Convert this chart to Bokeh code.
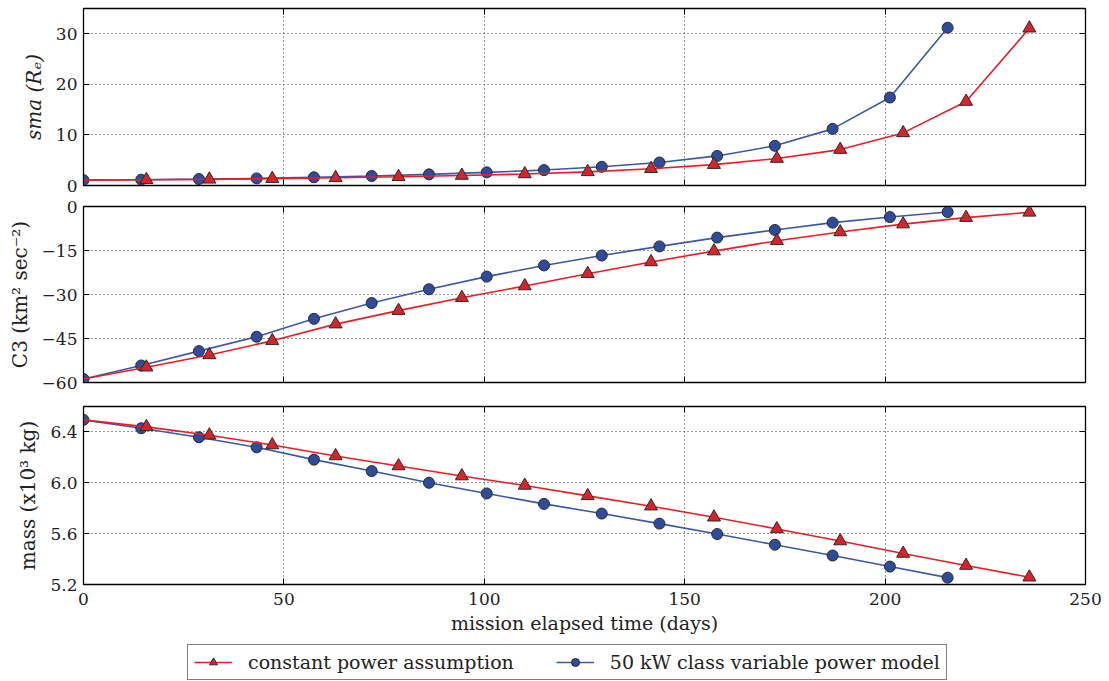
from bokeh.plotting import figure
from bokeh.layouts import column
from bokeh.models import (FixedTicker, LinearAxis, Legend, LegendItem, Range1d,
                          CustomJSTickFormatter, PrintfTickFormatter)
from bokeh.embed import file_html
from bokeh.resources import INLINE

# ---------------- data ----------------
days_const = [0, 15.7, 31.4, 47.1, 62.9, 78.6, 94.4, 110.1, 125.8, 141.6,
              157.3, 173.0, 188.8, 204.5, 220.2, 236.0]
days_var = [0, 14.4, 28.8, 43.2, 57.5, 71.9, 86.2, 100.6, 114.9, 129.3,
            143.7, 158.1, 172.5, 186.9, 201.2, 215.6]

sma_const = [1.06, 1.13, 1.22, 1.35, 1.52, 1.72, 1.98, 2.28, 2.70, 3.32,
             4.12, 5.33, 7.1, 10.4, 16.6, 31.1]
sma_var = [1.06, 1.15, 1.27, 1.40, 1.62, 1.88, 2.20, 2.60, 3.05, 3.70,
           4.55, 5.85, 7.85, 11.2, 17.4, 31.2]

c3_const = [-58.8, -54.8, -50.6, -45.8, -40.1, -35.5, -31.1, -27.1, -22.9,
            -18.9, -15.2, -11.7, -8.7, -6.0, -3.8, -2.0]
c3_var = [-58.8, -54.2, -49.3, -44.4, -38.3, -32.9, -28.2, -23.9, -20.1,
          -16.7, -13.6, -10.6, -8.0, -5.5, -3.6, -1.9]

mass_const = [6.495, 6.440, 6.374, 6.297, 6.211, 6.132, 6.053, 5.979, 5.897,
              5.816, 5.729, 5.637, 5.542, 5.444, 5.349, 5.257]
mass_var = [6.495, 6.429, 6.358, 6.279, 6.182, 6.092, 6.000, 5.916, 5.834,
            5.758, 5.679, 5.597, 5.513, 5.428, 5.341, 5.254]

x_ticks = [0, 50, 100, 150, 200, 250]
sma_ticks = [0, 10, 20, 30]
c3_ticks = [-60, -45, -30, -15, 0]
mass_ticks = [5.2, 5.6, 6.0, 6.4]

label_const = "constant power assumption"
label_var = "50 kW class variable power model"
x_label = "mission elapsed time (days)"

# ---------------- styles ----------------
FONT = "DejaVu Serif"
TICK_FS = "17px"
LABEL_FS = "19px"
RED_LINE = "#ec1c24"
RED_FILL = "#d8232a"
BLUE_LINE = "#3a58a6"
BLUE_FILL = "#2f4c9b"
EDGE = "#2a2a2a"
TXT = "#222222"

RED_LINE_KW = dict(line_color=RED_LINE, line_width=1.6)
RED_MARK_KW = dict(marker="triangle", size=13, fill_color=RED_FILL,
                   line_color=EDGE, line_width=1)
BLUE_LINE_KW = dict(line_color=BLUE_LINE, line_width=1.6)
BLUE_MARK_KW = dict(marker="circle", size=11, fill_color=BLUE_FILL,
                    line_color=EDGE, line_width=1)

minus_fmt = CustomJSTickFormatter(
    code="return tick < 0 ? '\u2212' + String(Math.abs(tick)) : String(tick);")


def hidden_axis(ticks):
    return LinearAxis(ticker=FixedTicker(ticks=ticks), major_label_text_color=None,
                      major_label_text_font_size="1px", major_label_standoff=0,
                      major_tick_in=6, major_tick_out=0, minor_tick_line_color=None,
                      axis_line_color="black", major_tick_line_color="black")


def make_fig(frame_h, top, bottom, yr, yticks, ylabel, show_xlabels,
             yfmt=None, italic=False):
    p = figure(frame_width=1002, frame_height=frame_h,
               x_range=Range1d(0, 250), y_range=Range1d(*yr),
               output_backend="svg", toolbar_location=None,
               min_border_left=83, min_border_right=20,
               min_border_top=top, min_border_bottom=bottom,
               outline_line_color="black", outline_line_width=1.3,
               background_fill_color="white", border_fill_color="white")
    xa = p.xaxis[0]
    xa.ticker = FixedTicker(ticks=x_ticks)
    xa.major_tick_in = 6
    xa.major_tick_out = 0
    xa.minor_tick_line_color = None
    xa.axis_line_color = "black"
    if show_xlabels:
        xa.major_label_text_font = FONT
        xa.major_label_text_font_size = TICK_FS
        xa.major_label_text_color = TXT
        xa.major_label_standoff = 8
        xa.axis_label = x_label
        xa.axis_label_text_font = FONT
        xa.axis_label_text_font_size = LABEL_FS
        xa.axis_label_text_font_style = "normal"
        xa.axis_label_text_color = TXT
        xa.axis_label_standoff = 4
    else:
        xa.major_label_text_color = None
        xa.major_label_text_font_size = "1px"
        xa.major_label_standoff = 0
    ya = p.yaxis[0]
    ya.ticker = FixedTicker(ticks=yticks)
    ya.major_tick_in = 6
    ya.major_tick_out = 0
    ya.minor_tick_line_color = None
    ya.axis_line_color = "black"
    ya.major_label_text_font = FONT
    ya.major_label_text_font_size = TICK_FS
    ya.major_label_text_color = TXT
    ya.major_label_standoff = 6
    if yfmt is not None:
        ya.formatter = yfmt
    ya.axis_label = ylabel
    ya.axis_label_text_font = FONT
    ya.axis_label_text_font_size = "20px"
    ya.axis_label_text_font_style = "italic" if italic else "normal"
    ya.axis_label_text_color = TXT
    ya.axis_label_standoff = 7
    p.add_layout(hidden_axis(x_ticks), "above")
    p.add_layout(hidden_axis(yticks), "right")
    p.xgrid.ticker = FixedTicker(ticks=x_ticks[1:-1])
    p.ygrid.ticker = FixedTicker(ticks=yticks)
    for g in (p.xgrid[0], p.ygrid[0]):
        g.grid_line_color = "#222222"
        g.grid_line_dash = "1 3"
        g.grid_line_width = 1
        g.grid_line_alpha = 0.9
    return p


def draw(p, yc, yv):
    bl = p.line(days_var, yv, **BLUE_LINE_KW)
    bs = p.scatter(days_var, yv, **BLUE_MARK_KW)
    rl = p.line(days_const, yc, **RED_LINE_KW)
    rs = p.scatter(days_const[1:], yc[1:], **RED_MARK_KW)
    return [rl, rs], [bl, bs]


p1 = make_fig(177, 8, 10, (0, 35), sma_ticks, "sma (R\u2091)", False,
              italic=True)
draw(p1, sma_const, sma_var)

p2 = make_fig(176, 11, 12, (-60, 0), c3_ticks,
              "C3 (km\u00b2 sec\u207b\u00b2)", False, yfmt=minus_fmt)
draw(p2, c3_const, c3_var)

p3 = make_fig(178, 12, 60, (5.2, 6.6), mass_ticks,
              "mass (x10\u00b3 kg)", True,
              yfmt=PrintfTickFormatter(format="%.1f"))
draw(p3, mass_const, mass_var)

# legend strip: its own small figure; the series are drawn there far outside
# its view range (so only the legend samples are visible)
p4 = figure(frame_width=1002, frame_height=36, x_range=Range1d(0, 1),
            y_range=Range1d(100, 101), x_axis_type=None, y_axis_type=None,
            output_backend="svg", toolbar_location=None,
            min_border_left=83, min_border_right=20, min_border_top=0,
            min_border_bottom=0, outline_line_color=None,
            background_fill_color="white", border_fill_color="white")
r_items, b_items = draw(p4, mass_const, mass_var)

legend = Legend(items=[LegendItem(label=label_const, renderers=r_items),
                       LegendItem(label=label_var, renderers=b_items)],
                orientation="horizontal", location=(104, 0),
                label_text_font=FONT, label_text_font_size=LABEL_FS,
                label_text_color=TXT,
                border_line_color="black", border_line_width=1,
                background_fill_color="white", background_fill_alpha=1,
                padding=6, spacing=42, glyph_width=38, glyph_height=20,
                label_standoff=16, margin=0, label_height=20)
p4.add_layout(legend, "center")

layout = column(p1, p2, p3, p4, spacing=0)

open("out.html", "w").write(file_html(layout, INLINE))
